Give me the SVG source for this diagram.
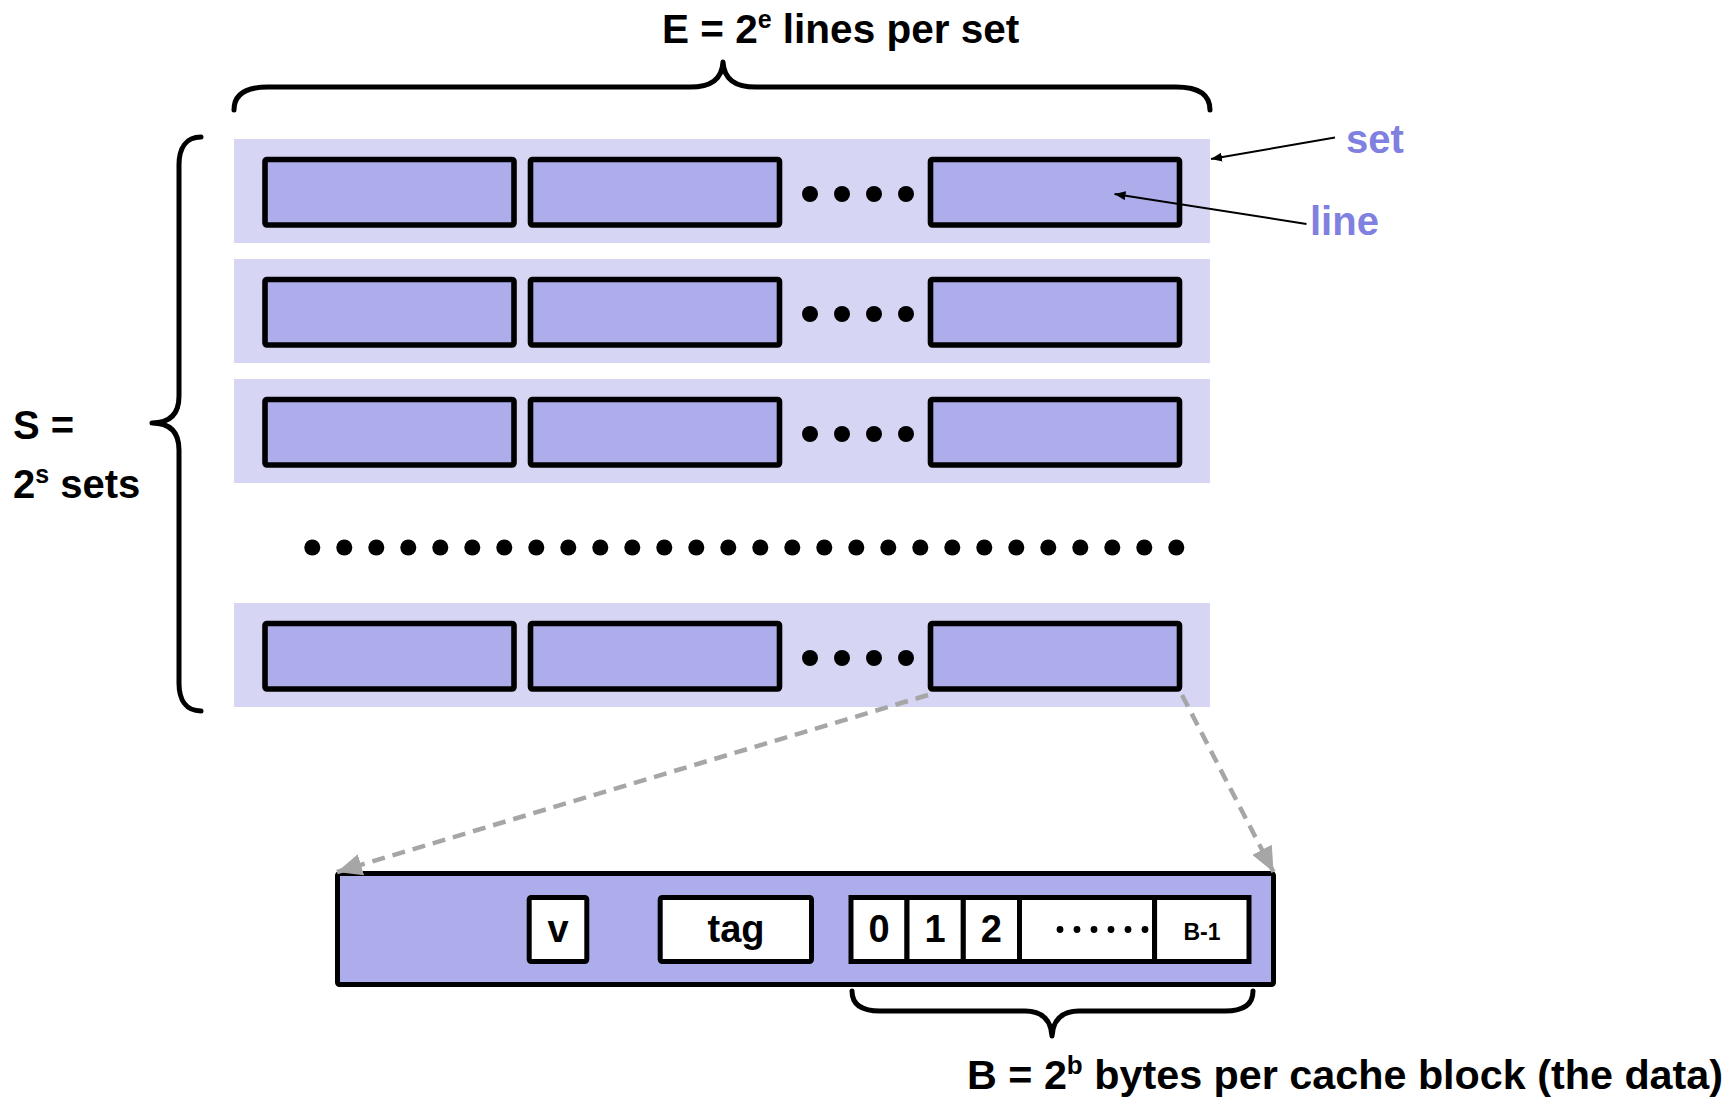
<svg xmlns="http://www.w3.org/2000/svg" width="1736" height="1098" viewBox="0 0 1736 1098">
  <style>
    .t { font-family: "Liberation Sans", Arial, sans-serif; font-weight: bold; fill: #000; }
    .lbl { font-family: "Liberation Sans", Arial, sans-serif; font-weight: bold; fill: #8080E0; font-size: 40px; }
    .set { fill: #D6D6F4; }
    .ln { fill: #ADADEB; stroke: #000; stroke-width: 5.6; }
    .cell { fill: #FFFFFF; stroke: #000; stroke-width: 5; }
    .brace { fill: none; stroke: #000; stroke-width: 5; stroke-linecap: round; stroke-linejoin: round; }
    .dash { fill: none; stroke: #A6A6A6; stroke-width: 4.5; stroke-dasharray: 13 8; }
    .ptr { fill: none; stroke: #000; stroke-width: 2; }
  </style>
  <defs>
    <marker id="arrowBlack" markerUnits="userSpaceOnUse" markerWidth="12" markerHeight="9" refX="11" refY="4.5" orient="auto">
      <path d="M0,0 L11,4.5 L0,9 Z" fill="#000"/>
    </marker>
    <marker id="arrowGrey" markerUnits="userSpaceOnUse" markerWidth="26" markerHeight="22" refX="25" refY="11" orient="auto">
      <path d="M0,0 L25,11 L0,22 Z" fill="#A6A6A6"/>
    </marker>
    <g id="lineRow">
      <rect class="ln" x="265" y="20.5" width="249" height="65.5" rx="2"/>
      <rect class="ln" x="530.5" y="20.5" width="249" height="65.5" rx="2"/>
      <rect class="ln" x="930.5" y="20.5" width="249" height="65.5" rx="2"/>
      <circle cx="810" cy="55" r="8"/>
      <circle cx="842" cy="55" r="8"/>
      <circle cx="874" cy="55" r="8"/>
      <circle cx="906" cy="55" r="8"/>
    </g>
  </defs>
  <rect width="1736" height="1098" fill="#FFFFFF"/>

  <!-- heading over the lines of a set -->
  <g id="label-E">
    <text class="t" x="662" y="43" font-size="40.5">E = 2<tspan font-size="25" dy="-15">e</tspan><tspan dy="15"> lines per set</tspan></text>
    <path class="brace" d="M234,110 C234,95 245,87 268,87 L690,87 C710,87 722,80 723,62 C724,80 736,87 756,87 L1176,87 C1199,87 1210,95 1210,110"/>
  </g>

  <!-- number of sets -->
  <g id="label-S">
    <text class="t" x="13" y="439" font-size="40">S =</text>
    <text class="t" x="13" y="498" font-size="40">2<tspan font-size="25" dy="-15">s</tspan><tspan dy="15"> sets</tspan></text>
    <path class="brace" d="M201,137 C186,137 179,148 179,165 L179,396 C179,414 170,423 152,423 C170,423 179,432 179,450 L179,683 C179,700 186,711 201,711"/>
  </g>

  <!-- sets, each holding E lines -->
  <g id="set-0">
    <rect class="set" x="234" y="139" width="976" height="104"/>
    <use href="#lineRow" y="139"/>
  </g>
  <g id="set-1">
    <rect class="set" x="234" y="259" width="976" height="104"/>
    <use href="#lineRow" y="259"/>
  </g>
  <g id="set-2">
    <rect class="set" x="234" y="379" width="976" height="104"/>
    <use href="#lineRow" y="379"/>
  </g>
  <g id="set-gap">
    <circle cx="312.3" cy="547.5" r="8"/><circle cx="344.3" cy="547.5" r="8"/><circle cx="376.3" cy="547.5" r="8"/><circle cx="408.3" cy="547.5" r="8"/>
    <circle cx="440.3" cy="547.5" r="8"/><circle cx="472.3" cy="547.5" r="8"/><circle cx="504.3" cy="547.5" r="8"/><circle cx="536.3" cy="547.5" r="8"/>
    <circle cx="568.3" cy="547.5" r="8"/><circle cx="600.3" cy="547.5" r="8"/><circle cx="632.3" cy="547.5" r="8"/><circle cx="664.3" cy="547.5" r="8"/>
    <circle cx="696.3" cy="547.5" r="8"/><circle cx="728.3" cy="547.5" r="8"/><circle cx="760.3" cy="547.5" r="8"/><circle cx="792.3" cy="547.5" r="8"/>
    <circle cx="824.3" cy="547.5" r="8"/><circle cx="856.3" cy="547.5" r="8"/><circle cx="888.3" cy="547.5" r="8"/><circle cx="920.3" cy="547.5" r="8"/>
    <circle cx="952.3" cy="547.5" r="8"/><circle cx="984.3" cy="547.5" r="8"/><circle cx="1016.3" cy="547.5" r="8"/><circle cx="1048.3" cy="547.5" r="8"/>
    <circle cx="1080.3" cy="547.5" r="8"/><circle cx="1112.3" cy="547.5" r="8"/><circle cx="1144.3" cy="547.5" r="8"/><circle cx="1176.3" cy="547.5" r="8"/>
  </g>
  <g id="set-last">
    <rect class="set" x="234" y="603" width="976" height="104"/>
    <use href="#lineRow" y="603"/>
  </g>

  <!-- side labels -->
  <g id="label-set">
    <text class="lbl" x="1346" y="153">set</text>
  </g>
  <g id="label-line">
    <text class="lbl" x="1310" y="235">line</text>
  </g>

  <!-- one cache line, expanded -->
  <g id="line-detail">
    <rect x="337.5" y="873.5" width="936" height="111" fill="#ADADEB" stroke="#000" stroke-width="5" rx="2"/>
    <rect class="cell" x="529.2" y="897.5" width="57.6" height="64" rx="2"/>
    <text class="t" x="558" y="942" font-size="38" text-anchor="middle">v</text>
    <rect class="cell" x="660.2" y="897.5" width="151.3" height="64" rx="2"/>
    <text class="t" x="736" y="942" font-size="38" text-anchor="middle">tag</text>
    <g id="data-block">
      <rect class="cell" x="851" y="897.5" width="56" height="64"/>
      <rect class="cell" x="907" y="897.5" width="56.3" height="64"/>
      <rect class="cell" x="963.3" y="897.5" width="56.2" height="64"/>
      <rect class="cell" x="1019.5" y="897.5" width="135.1" height="64"/>
      <rect class="cell" x="1154.6" y="897.5" width="94.4" height="64"/>
      <text class="t" x="879" y="942" font-size="38" text-anchor="middle">0</text>
      <text class="t" x="935" y="942" font-size="38" text-anchor="middle">1</text>
      <text class="t" x="991.4" y="942" font-size="38" text-anchor="middle">2</text>
      <circle cx="1060" cy="929.5" r="3.4"/><circle cx="1077" cy="929.5" r="3.4"/><circle cx="1094" cy="929.5" r="3.4"/>
      <circle cx="1111" cy="929.5" r="3.4"/><circle cx="1128" cy="929.5" r="3.4"/><circle cx="1145" cy="929.5" r="3.4"/>
      <text class="t" x="1202" y="940" font-size="23" text-anchor="middle">B-1</text>
    </g>
  </g>

  <!-- bytes per block -->
  <g id="label-B">
    <path class="brace" d="M852,991 C852,1003 860,1011 880,1011 L1025,1011 C1042,1011 1051,1020 1052,1036 C1053,1020 1062,1011 1079,1011 L1225,1011 C1245,1011 1253,1003 1253,991"/>
    <text class="t" x="967" y="1089" font-size="41.3">B = 2<tspan font-size="26" dy="-15">b</tspan><tspan dy="15"> bytes per cache block (the data)</tspan></text>
  </g>

  <!-- connectors -->
  <g id="connectors">
    <line class="ptr" x1="1335" y1="137.5" x2="1211" y2="159" marker-end="url(#arrowBlack)"/>
    <line class="ptr" x1="1306.5" y1="224" x2="1114.5" y2="194" marker-end="url(#arrowBlack)"/>
    <line class="dash" x1="928" y1="695" x2="337" y2="872" marker-end="url(#arrowGrey)"/>
    <line class="dash" x1="1182" y1="695" x2="1273.5" y2="872" marker-end="url(#arrowGrey)"/>
  </g>
</svg>
